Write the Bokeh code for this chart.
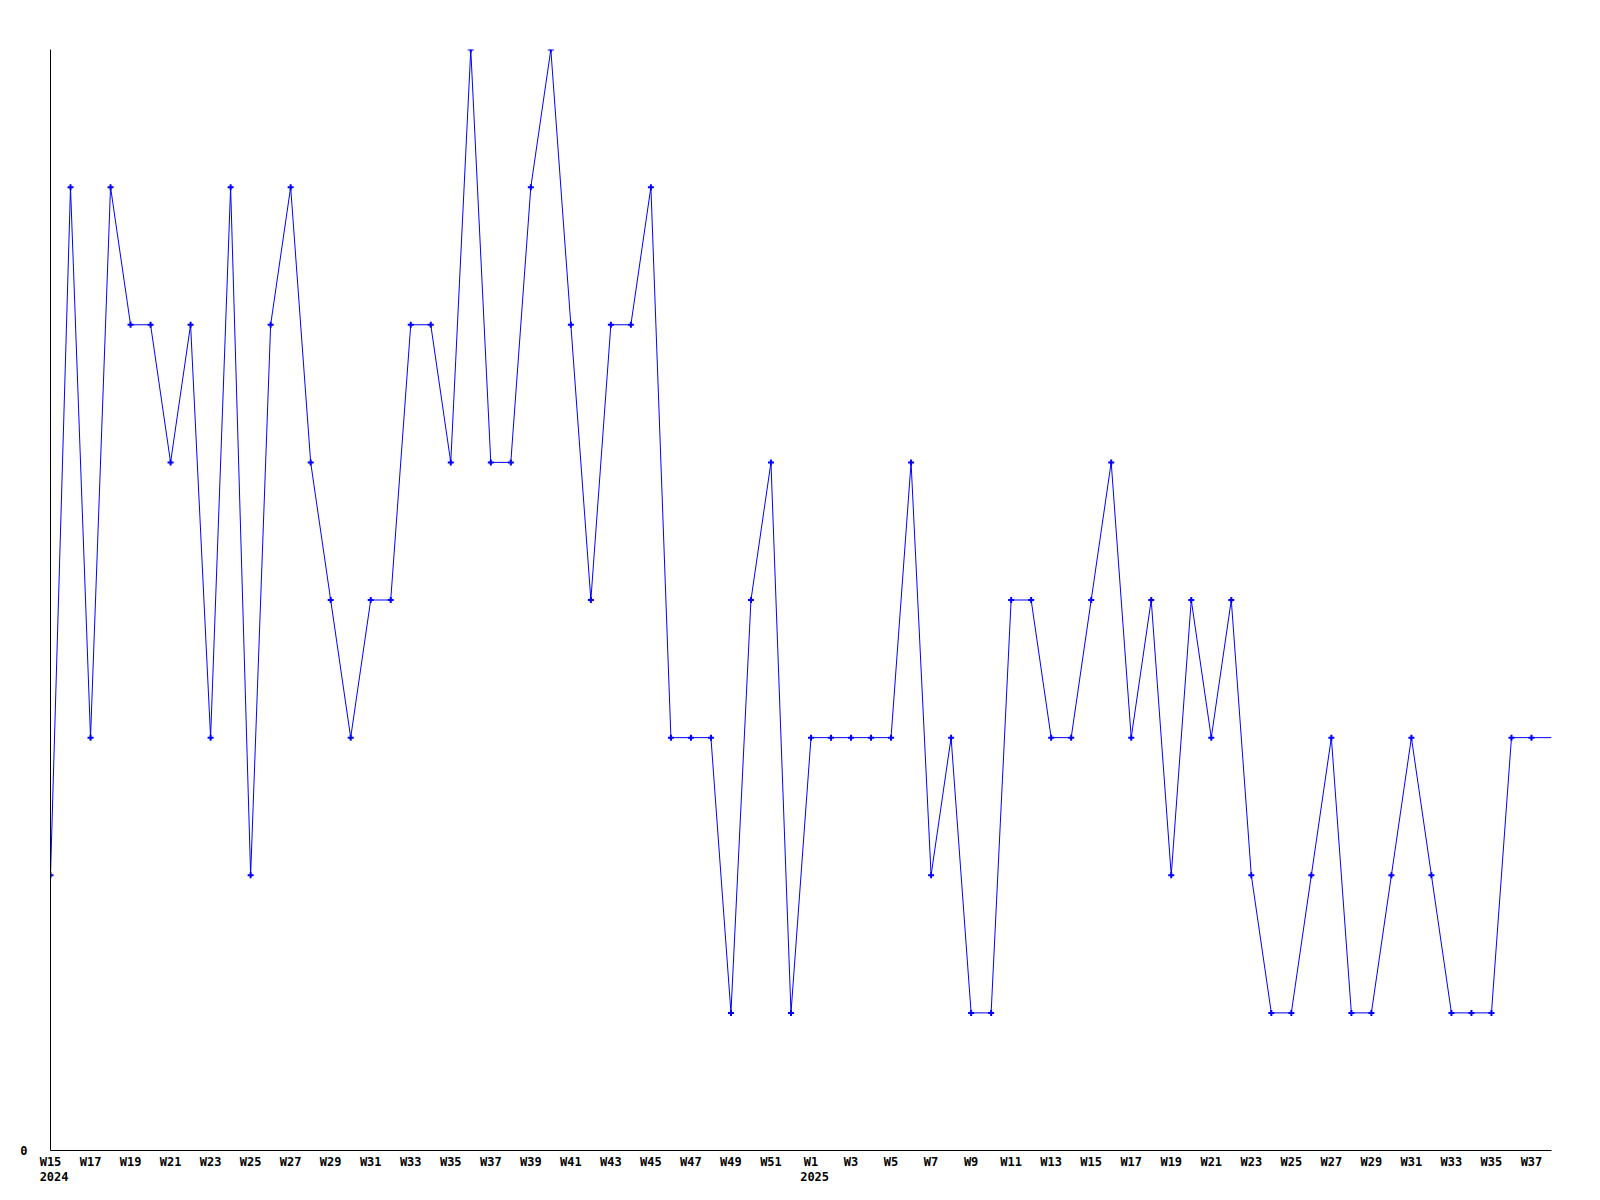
from bokeh.plotting import figure
from bokeh.models import FixedTicker, Range1d, ColumnDataSource, LinearAxis
from bokeh.embed import file_html
from bokeh.resources import INLINE

# ---- data ----
years = [2024] * 38 + [2025] * 38
weeks = list(range(15, 53)) + list(range(1, 39))
values = [2, 7, 3, 7, 6, 6, 5, 6, 3, 7,
          2, 6, 7, 5, 4, 3, 4, 4, 6, 6,
          5, 8, 5, 5, 7, 8, 6, 4, 6, 6,
          7, 3, 3, 3, 1, 4, 5, 1,
          3, 3, 3, 3, 3, 5, 2, 3, 1, 1,
          4, 4, 3, 3, 4, 5, 3, 4, 2, 4,
          3, 4, 2, 1, 1, 2, 3, 1, 1, 2,
          3, 2, 1, 1, 1, 3, 3, 3]
y_ticks = [0]
year_labels = ["2024", "2025"]

idx = list(range(len(values)))
FONT = "DejaVu Sans Mono"
FS = "12px"

p = figure(width=1592, height=1192, output_backend="svg", toolbar_location=None,
           x_range=Range1d(0, len(values) - 1), y_range=Range1d(0, 8),
           min_border_left=50, min_border_right=41, min_border_top=49, min_border_bottom=42)
p.outline_line_color = None
p.xgrid.visible = False
p.ygrid.visible = False
p.background_fill_color = "white"
p.border_fill_color = "white"

src = ColumnDataSource(dict(x=idx, y=values))
p.line("x", "y", source=src, line_color="#0000FF", line_width=1)
msrc = ColumnDataSource(dict(x=idx[:-1], y=values[:-1]))
p.scatter("x", "y", source=msrc, marker="cross", size=6, line_width=2,
          line_color="#0000FF")

def style_axis(ax, standoff):
    ax.major_tick_line_color = None
    ax.minor_tick_line_color = None
    ax.major_tick_out = 0
    ax.major_tick_in = 0
    ax.minor_tick_out = 0
    ax.major_label_standoff = standoff
    ax.major_label_text_font = FONT
    ax.major_label_text_font_style = "bold"
    ax.major_label_text_font_size = FS
    ax.major_label_text_color = "black"

# x axis (week labels)
tick_pos = [i for i in idx if i % 2 == 0]
p.xaxis.ticker = FixedTicker(ticks=tick_pos)
p.xaxis.major_label_overrides = {i: "W%d" % weeks[i] for i in tick_pos}
style_axis(p.xaxis[0], 4)
p.xaxis.axis_line_color = "black"

# second x axis (year labels, visually left aligned with first week label)
first_idx = [years.index(int(y)) for y in year_labels]
year_pos = [i + 0.18 for i in first_idx]
yax = LinearAxis(ticker=FixedTicker(ticks=year_pos),
                 major_label_overrides={pos: yl for pos, yl in zip(year_pos, year_labels)})
style_axis(yax, 0)
yax.axis_line_color = None
p.add_layout(yax, "below")

# y axis
p.yaxis.ticker = FixedTicker(ticks=y_ticks)
style_axis(p.yaxis[0], 23)
p.yaxis.axis_line_color = "black"

open("out.html", "w").write(file_html(p, INLINE))
